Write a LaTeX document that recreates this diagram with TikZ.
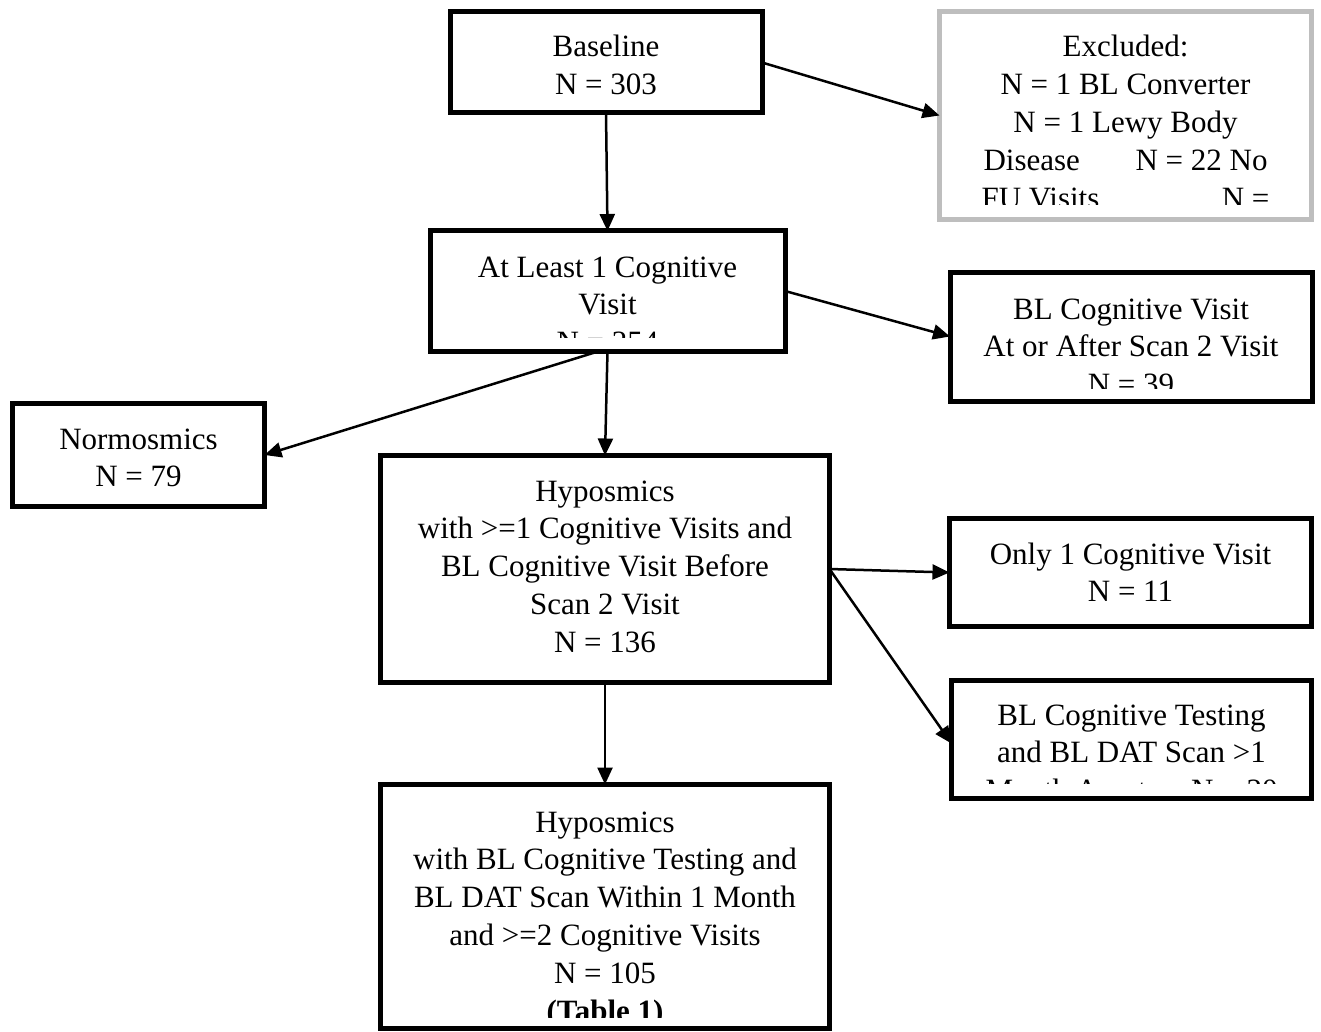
\documentclass[tikz,border=0pt]{standalone}
\usepackage{fontspec}
\setmainfont{Liberation Serif}
\usetikzlibrary{arrows.meta}
\definecolor{exgray}{RGB}{190,190,190}
\begin{document}
\begin{tikzpicture}[x=1pt,y=-1pt,
  box/.style={draw=black, line width=5pt, fill=white, rectangle, inner sep=0pt, outer sep=0pt},
  graybox/.style={box, draw=exgray, line width=4.5pt},
  txt/.style={inner sep=0pt, outer sep=0pt, anchor=base, align=center, font=\fontsize{31}{37.8}\selectfont},
  arr/.style={line width=2.5pt, -{Triangle[length=17pt,width=15pt]}}]
\useasboundingbox (0,0) rectangle (1321,1032);
% boxes
\node[box, minimum width=312, minimum height=101] (b1) at (606,62.5) {};
\node[graybox, minimum width=372, minimum height=208] (ex) at (1125.5,115.5) {};
\node[box, minimum width=355, minimum height=120] (b2) at (607.5,291) {};
\node[box, minimum width=362, minimum height=129] (blcv) at (1131,336.5) {};
\node[box, minimum width=252, minimum height=103] (normo) at (138.5,455) {};
\node[box, minimum width=449, minimum height=227] (hypo) at (605,569) {};
\node[box, minimum width=362, minimum height=108] (only) at (1130.5,572.5) {};
\node[box, minimum width=360, minimum height=118] (blct) at (1131.5,739.5) {};
\node[box, minimum width=449, minimum height=244] (final) at (605,906.5) {};
% arrows
\draw[arr] (b1.south) -- (b2.north);
\draw[arr] (b1.east) -- (ex.west);
\draw[arr] (b2.east) -- (blcv.west);
\draw[arr] (b2.south) -- (hypo.north);
\draw[arr] ([xshift=-8pt]b2.south) -- (normo.east);
\draw[arr] (hypo.east) -- (only.west);
\draw[arr] (hypo.east) -- ([yshift=-4pt]blct.west);
\draw[arr] (hypo.south) -- (final.north);
% texts (base anchor = baseline of the last line)
\node[txt] (t1) at (606,94.8) {Baseline\\N = 303};
\begin{scope}
\clip (945,16) rectangle (1308,205);
\node[txt] (tex) at (1125.5,208.2) {Excluded:\\N = 1 BL Converter\\N = 1 Lewy Body\\\hbox to 284pt{Disease\hfill N = 22 No}\\\hbox to 288pt{FU Visits\hfill N =}};
\end{scope}
\begin{scope}
\clip (435,236) rectangle (781,337);
\node[txt] (t2) at (607.5,352.6) {At Least 1 Cognitive\\Visit\\N = 254};
\end{scope}
\begin{scope}
\clip (955,277) rectangle (1308,388);
\node[txt] (tblcv) at (1131,394.6) {BL Cognitive Visit\\At or After Scan 2 Visit\\N = 39};
\end{scope}
\node[txt] (tnormo) at (138.5,486.8) {Normosmics\\N = 79};
\node[txt] (thypo) at (605,652.2) {Hyposmics\\with >=1 Cognitive Visits and\\BL Cognitive Visit Before\\Scan 2 Visit\\N = 136};
\node[txt] (tonly) at (1130.5,601.8) {Only 1 Cognitive Visit\\N = 11};
\begin{scope}
\clip (956,685) rectangle (1307,783);
\node[txt] (tblct) at (1131.5,800.6) {BL Cognitive Testing\\and BL DAT Scan >1\\\hbox to 292pt{Month Apart\hfill N = 20}};
\end{scope}
\begin{scope}
\clip (385,789) rectangle (825,1017);
\node[txt] (tfinal) at (605,1021) {Hyposmics\\with BL Cognitive Testing and\\BL DAT Scan Within 1 Month\\and >=2 Cognitive Visits\\N = 105\\\textbf{(Table 1)}};
\end{scope}
\end{tikzpicture}
\end{document}
